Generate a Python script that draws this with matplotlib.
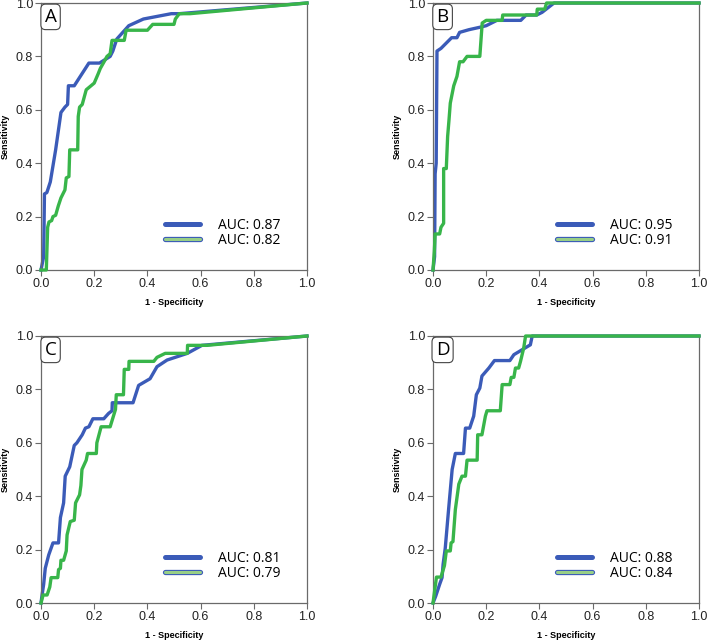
import matplotlib
matplotlib.use("Agg")
import matplotlib.pyplot as plt
from matplotlib.lines import Line2D
import matplotlib.patheffects as pe

# ---------------- data ----------------
panels = ["A", "B", "C", "D"]

a_blue_x = [0.0, 0.01, 0.013, 0.022, 0.035, 0.055, 0.075, 0.09, 0.1, 0.103, 0.125, 0.18, 0.22, 0.26, 0.27, 0.285, 0.33, 0.385, 0.49, 0.52, 1.0]
a_blue_y = [0.0, 0.05, 0.285, 0.29, 0.33, 0.45, 0.59, 0.61, 0.62, 0.69, 0.69, 0.775, 0.775, 0.80, 0.82, 0.865, 0.915, 0.94, 0.96, 0.96, 1.0]
a_green_x = [0.0, 0.02, 0.025, 0.03, 0.04, 0.045, 0.055, 0.065, 0.075, 0.09, 0.095, 0.105, 0.108, 0.138, 0.14, 0.145, 0.155, 0.17, 0.2, 0.215, 0.223, 0.24, 0.248, 0.26, 0.267, 0.313, 0.32, 0.40, 0.42, 0.50, 0.505, 0.52, 0.56, 1.0]
a_green_y = [0.0, 0.0, 0.16, 0.18, 0.185, 0.2, 0.205, 0.24, 0.27, 0.30, 0.345, 0.35, 0.45, 0.45, 0.575, 0.61, 0.62, 0.675, 0.70, 0.735, 0.755, 0.785, 0.80, 0.81, 0.86, 0.86, 0.898, 0.898, 0.92, 0.92, 0.94, 0.96, 0.96, 1.0]

b_blue_x = [0.0, 0.006, 0.008, 0.012, 0.015, 0.03, 0.05, 0.07, 0.09, 0.1, 0.135, 0.18, 0.2, 0.24, 0.33, 0.35, 0.39, 0.41, 0.455, 1.0]
b_blue_y = [0.0, 0.05, 0.36, 0.40, 0.82, 0.83, 0.85, 0.87, 0.87, 0.89, 0.90, 0.91, 0.915, 0.935, 0.935, 0.955, 0.955, 0.965, 1.0, 1.0]
b_green_x = [0.0, 0.005, 0.008, 0.025, 0.03, 0.04, 0.04, 0.05, 0.055, 0.06, 0.065, 0.078, 0.09, 0.1, 0.113, 0.128, 0.176, 0.185, 0.2, 0.26, 0.262, 0.39, 0.392, 0.42, 0.427, 1.0]
b_green_y = [0.0, 0.07, 0.135, 0.135, 0.16, 0.175, 0.38, 0.38, 0.50, 0.56, 0.625, 0.69, 0.725, 0.78, 0.78, 0.80, 0.80, 0.925, 0.935, 0.935, 0.955, 0.955, 0.977, 0.977, 1.0, 1.0]

c_blue_x = [0.0, 0.004, 0.01, 0.016, 0.029, 0.045, 0.066, 0.073, 0.085, 0.091, 0.108, 0.125, 0.135, 0.155, 0.167, 0.18, 0.195, 0.236, 0.254, 0.267, 0.268, 0.346, 0.367, 0.41, 0.436, 0.474, 0.55, 0.605, 1.0]
c_blue_y = [0.0, 0.03, 0.07, 0.13, 0.18, 0.225, 0.225, 0.32, 0.375, 0.475, 0.51, 0.59, 0.60, 0.63, 0.655, 0.66, 0.69, 0.69, 0.71, 0.72, 0.75, 0.75, 0.815, 0.84, 0.885, 0.91, 0.935, 0.965, 1.0]
c_green_x = [0.0, 0.008, 0.023, 0.033, 0.038, 0.063, 0.066, 0.073, 0.075, 0.085, 0.095, 0.098, 0.11, 0.125, 0.13, 0.145, 0.15, 0.154, 0.17, 0.175, 0.208, 0.21, 0.226, 0.26, 0.28, 0.283, 0.31, 0.313, 0.33, 0.331, 0.424, 0.436, 0.467, 0.55, 0.551, 0.624, 1.0]
c_green_y = [0.0, 0.03, 0.03, 0.06, 0.095, 0.095, 0.125, 0.13, 0.16, 0.16, 0.195, 0.255, 0.305, 0.31, 0.375, 0.405, 0.44, 0.50, 0.535, 0.56, 0.56, 0.60, 0.66, 0.66, 0.725, 0.78, 0.78, 0.875, 0.875, 0.905, 0.905, 0.92, 0.935, 0.935, 0.965, 0.965, 1.0]

d_blue_x = [0.0, 0.01, 0.025, 0.034, 0.038, 0.046, 0.059, 0.072, 0.084, 0.115, 0.122, 0.138, 0.153, 0.163, 0.176, 0.184, 0.21, 0.231, 0.289, 0.304, 0.366, 0.373, 1.0]
d_blue_y = [0.0, 0.025, 0.07, 0.095, 0.145, 0.205, 0.355, 0.50, 0.56, 0.56, 0.655, 0.655, 0.70, 0.78, 0.805, 0.85, 0.88, 0.908, 0.908, 0.93, 0.967, 1.0, 1.0]
d_green_x = [0.0, 0.013, 0.03, 0.043, 0.05, 0.065, 0.068, 0.075, 0.084, 0.097, 0.109, 0.122, 0.128, 0.166, 0.168, 0.184, 0.197, 0.203, 0.253, 0.26, 0.289, 0.294, 0.304, 0.31, 0.322, 0.329, 0.335, 0.341, 0.348, 1.0]
d_green_y = [0.0, 0.097, 0.097, 0.14, 0.195, 0.195, 0.225, 0.23, 0.35, 0.445, 0.475, 0.475, 0.535, 0.535, 0.63, 0.63, 0.70, 0.72, 0.72, 0.818, 0.818, 0.845, 0.845, 0.88, 0.88, 0.905, 0.93, 0.955, 1.0, 1.0]

auc_blue = ["0.87", "0.95", "0.81", "0.88"]
auc_green = ["0.82", "0.91", "0.79", "0.84"]

ticks = [0.0, 0.2, 0.4, 0.6, 0.8, 1.0]
tick_labels = ["0.0", "0.2", "0.4", "0.6", "0.8", "1.0"]
xlabel = "1 - Specificity"
ylabel = "Sensitivity"

curves = {
    "A": (a_blue_x, a_blue_y, a_green_x, a_green_y),
    "B": (b_blue_x, b_blue_y, b_green_x, b_green_y),
    "C": (c_blue_x, c_blue_y, c_green_x, c_green_y),
    "D": (d_blue_x, d_blue_y, d_green_x, d_green_y),
}

# ---------------- style ----------------
BLUE = "#3b5bb8"
GREEN = "#38b54a"
LEGEND_GREEN = "#98cf86"
SPINE = "#6a6a6a"

W, H = 708, 642
fig = plt.figure(figsize=(W / 100, H / 100), dpi=100)
fig.patch.set_facecolor("white")

positions = {
    "A": (41, 3),
    "B": (433, 3),
    "C": (41, 336),
    "D": (433, 336),
}
aw, ah = 266, 267

for i, p in enumerate(panels):
    left, top = positions[p]
    ax = fig.add_axes([left / W, 1 - (top + ah) / H, aw / W, ah / H])
    bx, by, gx, gy = curves[p]
    ax.plot(gx, gy, color=GREEN, lw=2.4, solid_joinstyle="round", clip_on=False, zorder=3)
    ax.plot(bx, by, color=BLUE, lw=2.4, solid_joinstyle="round", clip_on=False, zorder=2)
    ax.set_xlim(0, 1)
    ax.set_ylim(0, 1)
    ax.set_xticks(ticks)
    ax.set_yticks(ticks)
    ax.set_xticklabels(tick_labels, family="Liberation Sans", fontsize=9, color="#222222")
    ax.set_yticklabels(tick_labels, family="Liberation Sans", fontsize=9, color="#222222")
    ax.tick_params(direction="out", length=4.5, width=0.8, color=SPINE, pad=1.2)
    for s in ax.spines.values():
        s.set_color(SPINE)
        s.set_linewidth(0.9)
    ax.set_xlabel(xlabel, family="Liberation Sans", fontweight="bold", fontsize=6.5, labelpad=6)
    ax.set_ylabel(ylabel, family="Liberation Sans", fontweight="bold", fontsize=6.5, labelpad=4)

    # panel letter
    ax.text(0.036, 0.948, p, transform=ax.transAxes, ha="center", va="center",
            family="Open Sans", fontsize=13.5, color="black", zorder=5,
            bbox=dict(boxstyle="round,pad=0.2,rounding_size=0.25", fc="white", ec="#444444", lw=0.8))

    h1 = Line2D([], [], color=BLUE, lw=3.6, solid_capstyle="round")
    h2 = Line2D([], [], color=LEGEND_GREEN, lw=2.2, solid_capstyle="round",
                path_effects=[pe.Stroke(linewidth=3.8, foreground=BLUE, capstyle="round"), pe.Normal()])
    ax.legend([h1, h2], ["AUC: " + auc_blue[i], "AUC: " + auc_green[i]],
              loc="lower left", bbox_to_anchor=(0.455, 0.072), frameon=False,
              prop={"family": "Open Sans", "size": 10}, handlelength=2.5,
              handletextpad=1.35, labelspacing=0.0, borderpad=0.2, borderaxespad=0)

fig.savefig("out.png", dpi=100, facecolor="white")
